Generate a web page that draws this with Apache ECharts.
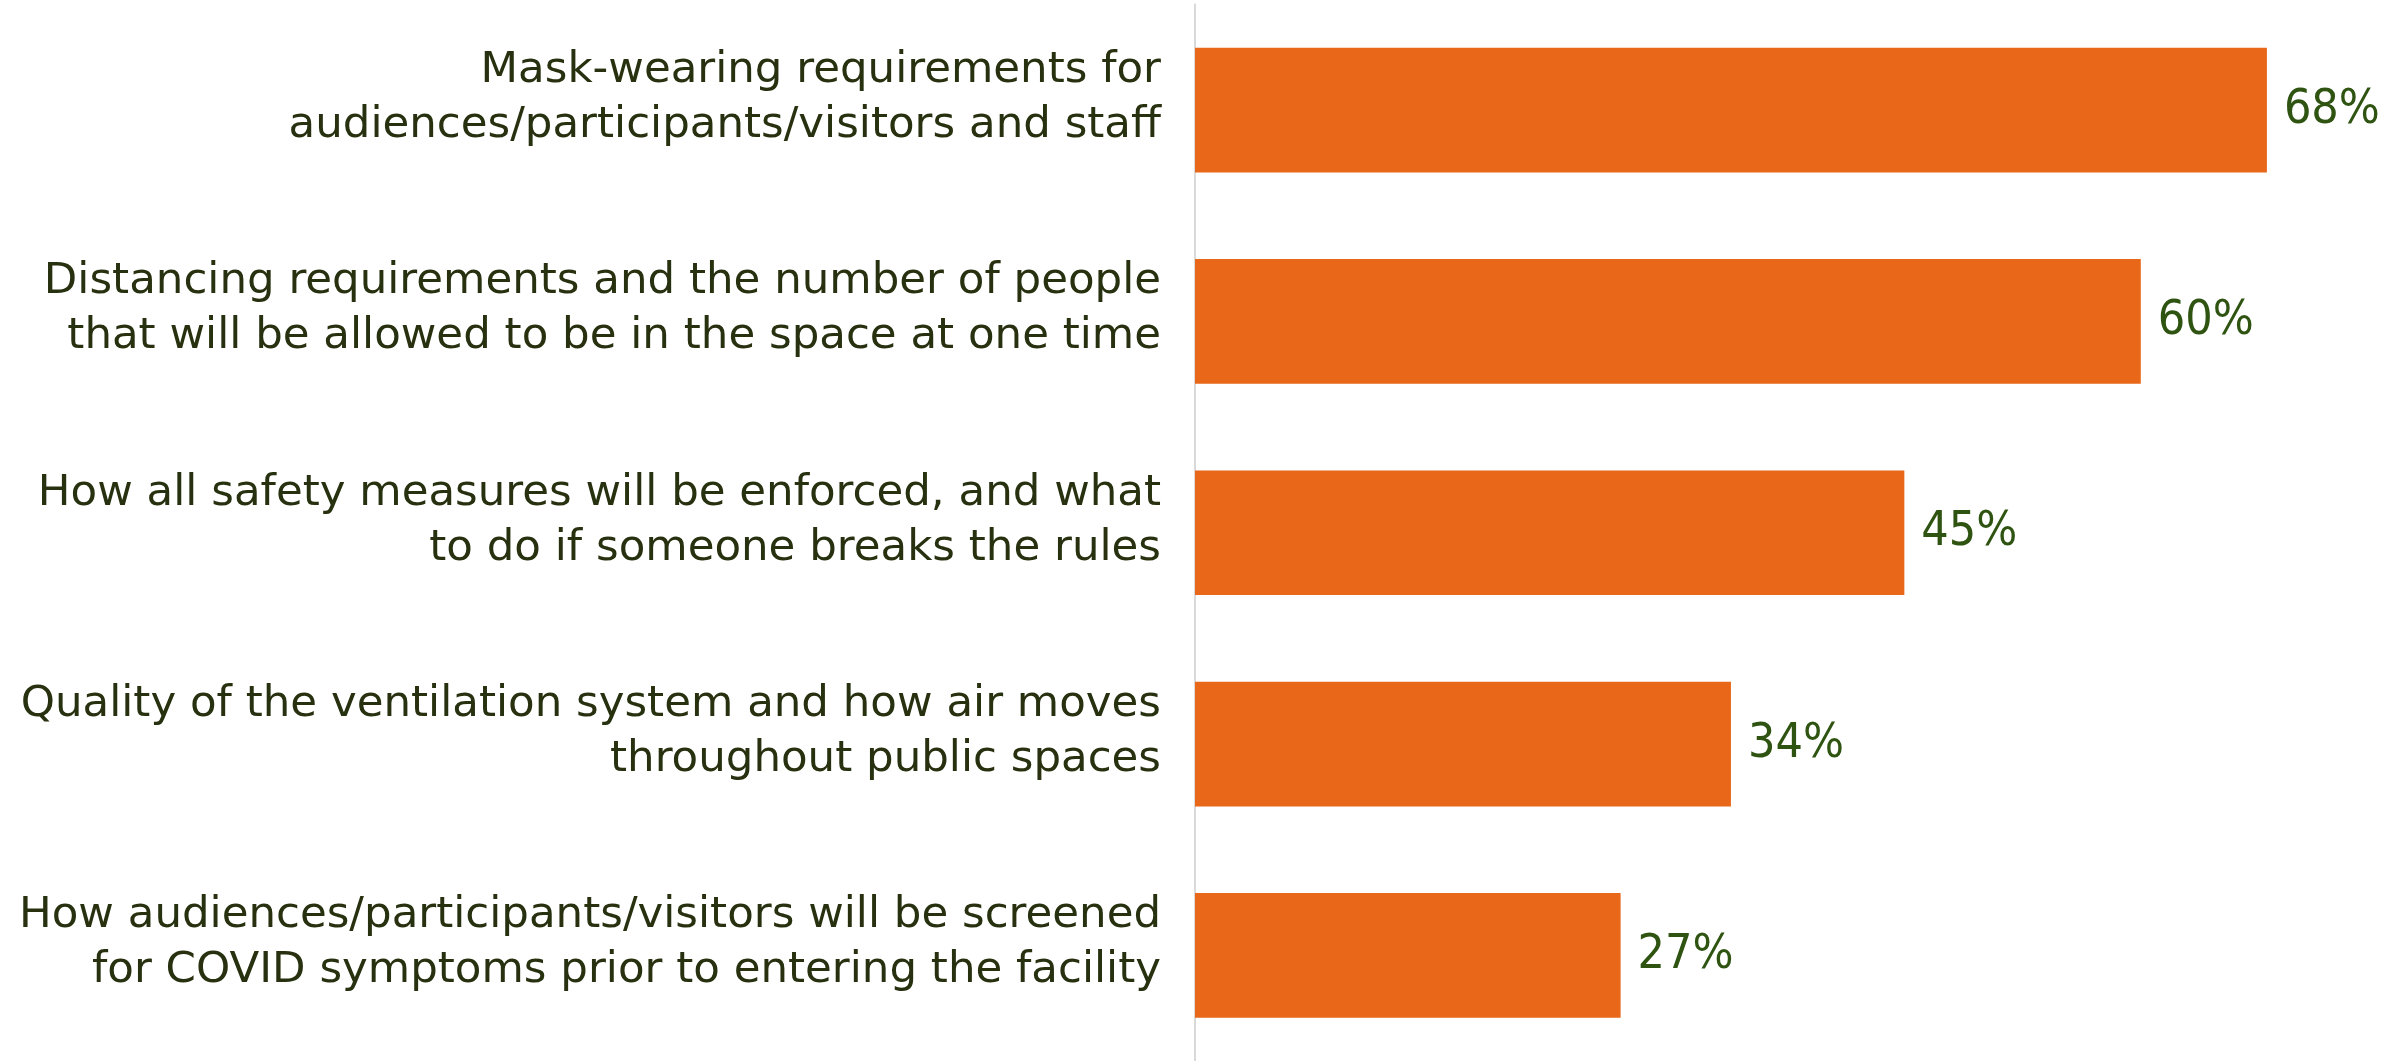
<!DOCTYPE html>
<html><head><meta charset="utf-8">
<script src="https://cdn.jsdelivr.net/npm/echarts@6/dist/echarts.min.js"></script>
<style>html,body{margin:0;padding:0;background:#fff}#c{width:2400px;height:1061px}</style>
</head><body><div id="c"></div>
<script>
const categories = [
  "Mask-wearing requirements for\naudiences/participants/visitors and staff",
  "Distancing requirements and the number of people\nthat will be allowed to be in the space at one time",
  "How all safety measures will be enforced, and what\nto do if someone breaks the rules",
  "Quality of the ventilation system and how air moves\nthroughout public spaces",
  "How audiences/participants/visitors will be screened\nfor COVID symptoms prior to entering the facility"
];
const values = [68, 60, 45, 34, 27];

const chart = echarts.init(document.getElementById('c'));
chart.setOption({
  animation: false,
  grid: { left: 1195, right: 7, top: 4.5, bottom: -6, containLabel: false },
  xAxis: { type: 'value', min: 0, max: 76, show: false },
  yAxis: {
    type: 'category', data: categories, inverse: true,
    axisLine: { show: true, lineStyle: { color: '#d9d9d9', width: 2 } },
    axisTick: { show: false },
    axisLabel: {
      margin: 34, color: '#27310f', fontFamily: 'DejaVu Sans',
      fontSize: 43.5, lineHeight: 55, align: 'right',
      formatter: v => v.split('\n').map(l => '{t|' + l + '}').join('\n') + '\n{s| }',
      rich: {
        t: { color: '#27310f', fontFamily: 'DejaVu Sans', fontSize: 43.5, lineHeight: 55 },
        s: { fontSize: 4, lineHeight: 24, height: 24 }
      }
    }
  },
  series: [{
    type: 'bar', data: values, barCategoryGap: '41%',
    itemStyle: { color: '#e86719' },
    label: {
      show: true, position: 'right', distance: 17, formatter: '{c}%',
      color: '#2f5412', fontFamily: 'DejaVu Sans Condensed', fontSize: 48
    }
  }]
});
</script></body></html>
